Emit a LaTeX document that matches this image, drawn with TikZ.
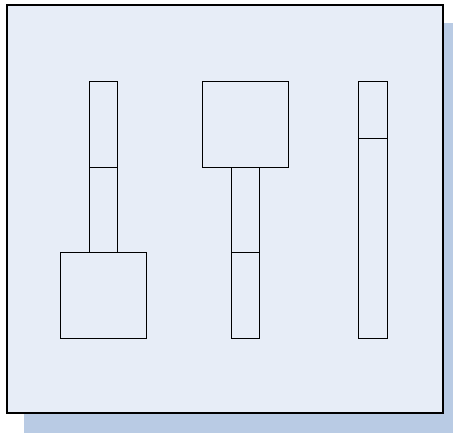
\documentclass[tikz,border=0pt]{standalone}
\definecolor{panelfill}{RGB}{231,237,247}
\definecolor{shadowfill}{RGB}{185,203,228}
\begin{document}
\begin{tikzpicture}[x=1pt,y=-1pt,
  part/.style={draw=black, line width=0.9pt, inner sep=0pt, outer sep=0pt, anchor=north west, fill=panelfill},
  panel/.style={draw=black, line width=1.1pt, fill=panelfill}]
\useasboundingbox (0,0) rectangle (453,432);
% shadow and panel
\fill[shadowfill] (24,23) rectangle (460,440);
\draw[panel] (7,5) rectangle (443,413);
% column 1
\node[part, minimum width=28.5pt, minimum height=85.5pt] (c1a) at (89,81.5) {};
\node[part, minimum width=28.5pt, minimum height=85.5pt] (c1b) at (89,167) {};
\node[part, minimum width=85.5pt, minimum height=85.5pt] (c1c) at (60.5,252.5) {};
% column 2
\node[part, minimum width=85.5pt, minimum height=85.5pt] (c2a) at (202.5,81.5) {};
\node[part, minimum width=28.5pt, minimum height=85.5pt] (c2b) at (231,167) {};
\node[part, minimum width=28.5pt, minimum height=85.5pt] (c2c) at (231,252.5) {};
% column 3
\node[part, minimum width=28.5pt, minimum height=57pt] (c3a) at (358.5,81.5) {};
\node[part, minimum width=28.5pt, minimum height=199.5pt] (c3b) at (358.5,138.5) {};
\end{tikzpicture}
\end{document}
